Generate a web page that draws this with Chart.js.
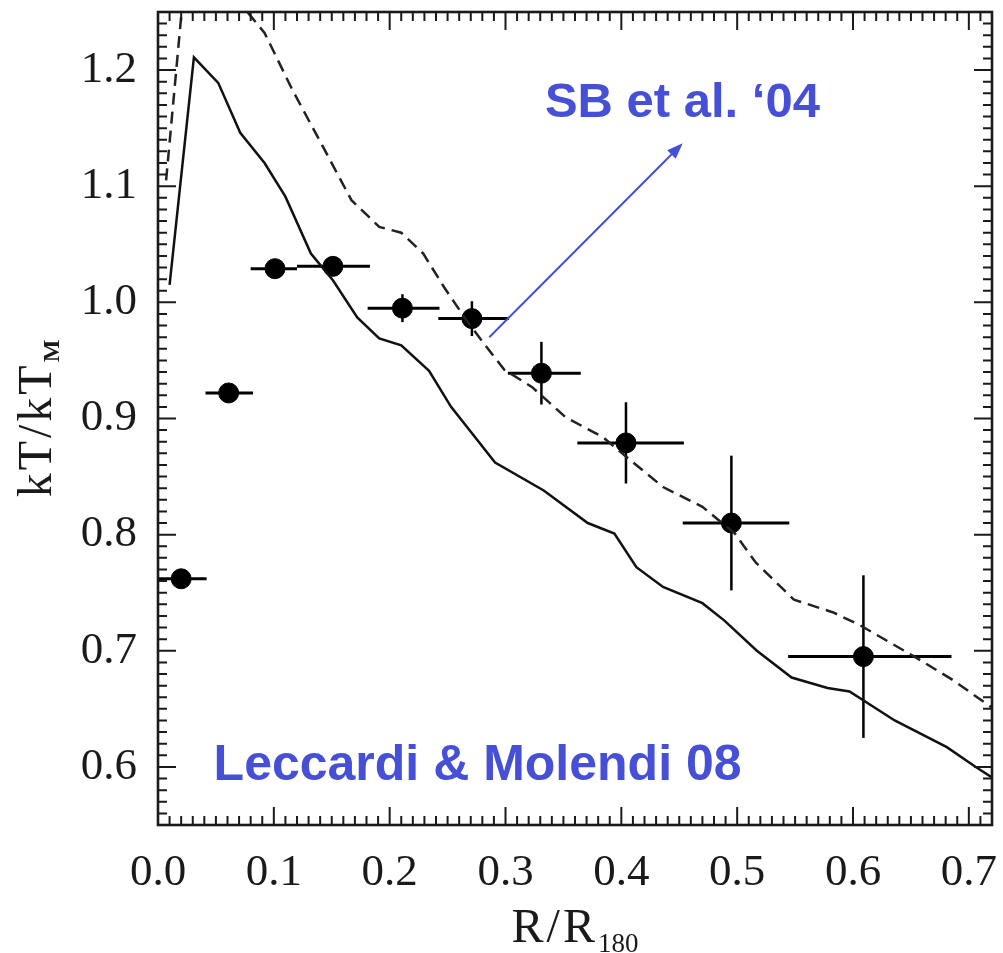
<!DOCTYPE html>
<html>
<head>
<meta charset="utf-8">
<script src="https://cdn.jsdelivr.net/npm/chart.js@4.4.1/dist/chart.umd.min.js"></script>
<style>
  html, body { margin: 0; padding: 0; background: #fff; }
  #wrap { width: 1003px; height: 953px; }
</style>
</head>
<body>
<div id="wrap"><canvas id="chart" width="1003" height="953"></canvas></div>
<script>
const xTicks = [0.0, 0.1, 0.2, 0.3, 0.4, 0.5, 0.6, 0.7];
const yTicks = [0.6, 0.7, 0.8, 0.9, 1.0, 1.1, 1.2];

// Leccardi & Molendi 08 profile
const ptX    = [0.020, 0.061, 0.101, 0.151, 0.211, 0.271, 0.331, 0.404, 0.495, 0.609];
const ptY    = [0.762, 0.922, 1.029, 1.031, 0.995, 0.986, 0.939, 0.879, 0.810, 0.695];
const ptXlo  = [0.000, 0.041, 0.080, 0.120, 0.181, 0.242, 0.302, 0.362, 0.453, 0.544];
const ptXhi  = [0.042, 0.082, 0.120, 0.183, 0.243, 0.303, 0.365, 0.454, 0.545, 0.685];
const ptYerr = [0.004, 0.004, 0.005, 0.005, 0.012, 0.015, 0.027, 0.035, 0.058, 0.070];

// simulation, solid
const solidX = [0.010, 0.031, 0.052, 0.071, 0.092, 0.110, 0.132, 0.151, 0.172, 0.191, 0.210,
                0.234, 0.253, 0.291, 0.333, 0.371, 0.394, 0.413, 0.436, 0.470, 0.489, 0.517,
                0.547, 0.578, 0.597, 0.636, 0.681, 0.706, 0.720];
const solidY = [1.015, 1.211, 1.189, 1.146, 1.120, 1.091, 1.042, 1.019, 0.987, 0.969, 0.963,
                0.941, 0.910, 0.862, 0.838, 0.810, 0.801, 0.772, 0.755, 0.741, 0.726, 0.700,
                0.677, 0.668, 0.665, 0.640, 0.617, 0.600, 0.591];

// SB et al. '04, dashed (null = break where it leaves the frame)
const dashX = [0.007, 0.020, 0.024, 0.037, 0.050, 0.078, 0.092, 0.116, 0.144, 0.167, 0.191,
               0.210, 0.229, 0.247, 0.266, 0.281, 0.299, 0.323, 0.352, 0.384, 0.408, 0.436,
               0.470, 0.498, 0.516, 0.549, 0.583, 0.606, 0.653, 0.686, 0.710, 0.720];
const dashY = [1.105, 1.246, 1.290, null, 1.290, 1.249, 1.232, 1.183, 1.131, 1.088, 1.065,
               1.060, 1.042, 1.013, 0.985, 0.965, 0.942, 0.927, 0.901, 0.884, 0.864, 0.841,
               0.824, 0.801, 0.776, 0.744, 0.733, 0.722, 0.695, 0.675, 0.658, 0.651];

const arrowFrom = [0.286, 0.970];
const arrowTo = [0.453, 1.137];

const BLUE = '#4650d6';
const INK = '#1a1a1a';

const toXY = (xs, ys) => xs.map((x, i) => ({ x, y: ys[i] }));

const errorBars = {
  id: 'errorBars',
  beforeDatasetsDraw(chart) {
    const { ctx, scales: { x, y } } = chart;
    ctx.save();
    ctx.strokeStyle = '#000';
    ptX.forEach((px, i) => {
      const cy = y.getPixelForValue(ptY[i]);
      ctx.lineWidth = 3;
      ctx.beginPath();
      ctx.moveTo(x.getPixelForValue(ptXlo[i]), cy);
      ctx.lineTo(x.getPixelForValue(ptXhi[i]), cy);
      ctx.stroke();
      const cx = x.getPixelForValue(px);
      ctx.lineWidth = 2.5;
      ctx.beginPath();
      ctx.moveTo(cx, y.getPixelForValue(ptY[i] - ptYerr[i]));
      ctx.lineTo(cx, y.getPixelForValue(ptY[i] + ptYerr[i]));
      ctx.stroke();
    });
    ctx.restore();
  }
};

const frame = {
  id: 'frame',
  afterDraw(chart) {
    const { ctx, chartArea: a, scales: { x, y } } = chart;
    ctx.save();
    ctx.strokeStyle = INK;

    // minor ticks every 0.01, major ticks at labels, all pointing inwards
    ctx.lineWidth = 2;
    ctx.beginPath();
    for (let i = 0; i <= 72; i++) {
      const v = i / 100;
      const len = xTicks.some(t => Math.abs(t - v) < 1e-6) ? 18 : 9;
      const px = x.getPixelForValue(v);
      ctx.moveTo(px, a.bottom); ctx.lineTo(px, a.bottom - len);
      ctx.moveTo(px, a.top); ctx.lineTo(px, a.top + len);
    }
    for (let i = 55; i <= 125; i++) {
      const v = i / 100;
      const len = yTicks.some(t => Math.abs(t - v) < 1e-6) ? 18 : 9;
      const py = y.getPixelForValue(v);
      ctx.moveTo(a.left, py); ctx.lineTo(a.left + len, py);
      ctx.moveTo(a.right, py); ctx.lineTo(a.right - len, py);
    }
    ctx.stroke();

    ctx.lineWidth = 2.6;
    ctx.strokeRect(a.left, a.top, a.right - a.left, a.bottom - a.top);

    // axis titles
    ctx.fillStyle = INK;
    ctx.textBaseline = 'alphabetic';
    ctx.letterSpacing = '3px';
    ctx.font = '48px "Liberation Serif"';
    const mainX = 'R/R';
    const wMain = ctx.measureText(mainX).width;
    ctx.font = '27px "Liberation Serif"';
    ctx.letterSpacing = '0px';
    const wSub = ctx.measureText('180').width;
    const sx = (a.left + a.right) / 2 - (wMain + wSub) / 2;
    ctx.letterSpacing = '3px';
    ctx.font = '48px "Liberation Serif"';
    ctx.fillText(mainX, sx, 942);
    ctx.letterSpacing = '0px';
    ctx.font = '27px "Liberation Serif"';
    ctx.fillText('180', sx + wMain, 952);

    ctx.save();
    ctx.translate(51, (a.top + a.bottom) / 2);
    ctx.rotate(-Math.PI / 2);
    ctx.letterSpacing = '3px';
    ctx.font = '48px "Liberation Serif"';
    const wy = ctx.measureText('kT/kT').width;
    ctx.letterSpacing = '0px';
    ctx.font = 'bold 24px "Liberation Serif"';
    const wm = ctx.measureText('M').width;
    const sy = -(wy + wm) / 2;
    ctx.letterSpacing = '3px';
    ctx.font = '48px "Liberation Serif"';
    ctx.fillText('kT/kT', sy, 0);
    ctx.letterSpacing = '0px';
    ctx.font = 'bold 24px "Liberation Serif"';
    ctx.fillText('M', sy + wy, 8);
    ctx.restore();

    // annotation arrow and labels
    const x0 = x.getPixelForValue(arrowFrom[0]), y0 = y.getPixelForValue(arrowFrom[1]);
    const x1 = x.getPixelForValue(arrowTo[0]), y1 = y.getPixelForValue(arrowTo[1]);
    const ang = Math.atan2(y1 - y0, x1 - x0);
    ctx.strokeStyle = BLUE;
    ctx.fillStyle = BLUE;
    ctx.lineWidth = 2;
    ctx.beginPath();
    ctx.moveTo(x0, y0);
    ctx.lineTo(x1 - 10 * Math.cos(ang), y1 - 10 * Math.sin(ang));
    ctx.stroke();
    ctx.beginPath();
    ctx.moveTo(x1, y1);
    ctx.lineTo(x1 - 16 * Math.cos(ang) + 6 * Math.sin(ang), y1 - 16 * Math.sin(ang) - 6 * Math.cos(ang));
    ctx.lineTo(x1 - 16 * Math.cos(ang) - 6 * Math.sin(ang), y1 - 16 * Math.sin(ang) + 6 * Math.cos(ang));
    ctx.closePath();
    ctx.fill();

    ctx.font = 'bold 49px "Liberation Sans"';
    ctx.textAlign = 'left';
    ctx.fillText('SB et al. \u201804', x.getPixelForValue(0.334), y.getPixelForValue(1.1596));
    ctx.font = 'bold 50px "Liberation Sans"';
    ctx.fillText('Leccardi & Molendi 08', x.getPixelForValue(0.048), y.getPixelForValue(0.589));
    ctx.restore();
  }
};

const tickFont = { family: 'Liberation Serif', size: 45 };

new Chart(document.getElementById('chart'), {
  type: 'scatter',
  data: {
    datasets: [
      {
        type: 'line',
        data: toXY(solidX, solidY),
        borderColor: '#111',
        borderWidth: 2.5,
        pointRadius: 0,
        tension: 0,
        clip: 0
      },
      {
        type: 'line',
        data: toXY(dashX, dashY),
        borderColor: '#222',
        borderWidth: 2.5,
        borderDash: [12, 7],
        pointRadius: 0,
        tension: 0,
        spanGaps: false,
        clip: 0
      },
      {
        data: toXY(ptX, ptY),
        backgroundColor: '#000',
        borderColor: '#000',
        pointRadius: 10,
        pointHoverRadius: 10
      }
    ]
  },
  options: {
    responsive: false,
    animation: false,
    events: [],
    layout: { padding: { top: 12, right: 10, left: 0, bottom: 0 } },
    plugins: { legend: { display: false }, tooltip: { enabled: false } },
    scales: {
      x: {
        type: 'linear',
        min: 0,
        max: 0.72,
        grid: { display: false },
        border: { display: false },
        afterBuildTicks: s => { s.ticks = xTicks.map(v => ({ value: v })); },
        afterFit: s => { s.height = 128; s.paddingLeft = 0; s.paddingRight = 0; },
        ticks: {
          font: tickFont,
          color: INK,
          padding: 13,
          maxRotation: 0,
          autoSkip: false,
          callback: v => v.toFixed(1)
        }
      },
      y: {
        type: 'linear',
        min: 0.55,
        max: 1.25,
        grid: { display: false },
        border: { display: false },
        afterBuildTicks: s => { s.ticks = yTicks.map(v => ({ value: v })); },
        afterFit: s => { s.width = 158; s.paddingTop = 0; s.paddingBottom = 0; },
        ticks: {
          font: tickFont,
          color: INK,
          padding: 13,
          autoSkip: false,
          callback: v => v.toFixed(1)
        }
      }
    }
  },
  plugins: [errorBars, frame]
});
</script>
</body>
</html>
